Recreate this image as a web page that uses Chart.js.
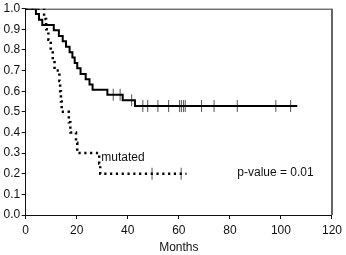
<!DOCTYPE html>
<html>
<head>
<meta charset="utf-8">
<script src="https://cdn.jsdelivr.net/npm/chart.js@4/dist/chart.umd.min.js"></script>
<style>
  html, body { margin: 0; padding: 0; background: #fff; }
  #wrap { width: 346px; height: 255px; }
</style>
</head>
<body>
<div id="wrap"><canvas id="c" width="346" height="255"></canvas></div>
<script>
// ---- Data (Kaplan-Meier curves) ----
const wildMonths = [0, 4.0, 5.2, 6.5, 11.0, 13.0, 14.5, 15.8, 17.2, 18.3, 19.2, 20.2, 21.5, 23.5, 25.0, 26.2, 32.0, 38.0, 42.8, 106.4];
const wildSurv   = [1.0, 0.974, 0.947, 0.921, 0.895, 0.868, 0.842, 0.816, 0.789, 0.763, 0.737, 0.711, 0.684, 0.658, 0.632, 0.607, 0.583, 0.556, 0.528, 0.528];
const wildCensor = [34.3, 37.0, 41.5, 45.9, 47.8, 51.8, 56.0, 60.3, 61.0, 61.8, 62.5, 68.9, 73.8, 82.9, 98.0, 103.8];

const mutMonths = [0, 7.2, 8.0, 8.9, 9.8, 10.6, 11.3, 13.2, 13.5, 13.8, 14.1, 16.9, 17.5, 19.7, 20.2, 28.8, 29.2, 63.0];
const mutSurv   = [1.0, 0.95, 0.90, 0.85, 0.80, 0.75, 0.70, 0.65, 0.60, 0.55, 0.50, 0.45, 0.40, 0.35, 0.30, 0.25, 0.20, 0.20];
const mutCensor = [49.5, 60.9];

const xTicks = [0, 20, 40, 60, 80, 100, 120];
const yTicks = [0.0, 0.1, 0.2, 0.3, 0.4, 0.5, 0.6, 0.7, 0.8, 0.9, 1.0];

const mutLabel = "mutated";
const pLabel = "p-value = 0.01";
const xTitle = "Months";

// ---- helpers ----
function toPoints(xs, ys) { return xs.map((x, i) => ({ x: x, y: ys[i] })); }
function levelAt(xs, ys, t) {
  let v = ys[0];
  for (let i = 0; i < xs.length; i++) { if (xs[i] <= t) v = ys[i]; }
  return v;
}
function censorPoints(cs, xs, ys) { return cs.map(t => ({ x: t, y: levelAt(xs, ys, t) })); }

const FONT = "'Liberation Sans', Arial, Helvetica, sans-serif";

const framePlugin = {
  id: 'frame',
  beforeDatasetsDraw(chart) {
    const a = chart.chartArea, ctx = chart.ctx;
    ctx.save();
    ctx.strokeStyle = '#333';
    ctx.lineWidth = 1;
    ctx.beginPath();
    ctx.moveTo(a.left, a.top + 0.5);
    ctx.lineTo(a.right, a.top + 0.5);
    ctx.stroke();
    ctx.strokeStyle = '#666';
    ctx.lineWidth = 2;
    ctx.beginPath();
    ctx.moveTo(a.right, a.top);
    ctx.lineTo(a.right, a.bottom);
    ctx.stroke();
    ctx.restore();
  },
  afterDatasetsDraw(chart) {
    const ctx = chart.ctx, xs = chart.scales.x, ys = chart.scales.y;
    ctx.save();
    ctx.fillStyle = '#111';
    ctx.font = '12px ' + FONT;
    ctx.textBaseline = 'middle';
    ctx.textAlign = 'left';
    ctx.fillText(mutLabel, xs.getPixelForValue(29.6), ys.getPixelForValue(0.279));
    ctx.fillText(pLabel, xs.getPixelForValue(82.9), ys.getPixelForValue(0.205));
    ctx.restore();
  }
};

new Chart(document.getElementById('c'), {
  type: 'line',
  data: {
    datasets: [
      {
        data: toPoints(wildMonths, wildSurv),
        borderColor: '#000', borderWidth: 2, stepped: 'before',
        pointRadius: 0, fill: false
      },
      {
        data: toPoints(mutMonths, mutSurv),
        borderColor: '#000', borderWidth: 2.5, borderDash: [2.2, 3.6], stepped: 'before',
        pointRadius: 0, fill: false
      },
      {
        data: censorPoints(wildCensor, wildMonths, wildSurv),
        showLine: false, pointStyle: 'line', rotation: 90, pointRadius: 6,
        pointBorderColor: '#555', pointBorderWidth: 1, borderColor: '#555'
      },
      {
        data: censorPoints(mutCensor, mutMonths, mutSurv),
        showLine: false, pointStyle: 'line', rotation: 90, pointRadius: 6,
        pointBorderColor: '#555', pointBorderWidth: 1, borderColor: '#555'
      }
    ]
  },
  options: {
    responsive: false,
    animation: false,
    events: [],
    layout: { padding: { left: 0, right: 9, top: 7, bottom: 0 } },
    plugins: { legend: { display: false }, tooltip: { enabled: false } },
    scales: {
      x: {
        type: 'linear', min: 0, max: 120,
        afterBuildTicks(axis) { axis.ticks = xTicks.map(v => ({ value: v })); },
        afterFit(axis) { axis.height = 40; },
        ticks: { color: '#111', font: { size: 12, family: FONT }, padding: 4, maxRotation: 0 },
        grid: { display: true, drawOnChartArea: false, drawTicks: true, tickLength: 4, color: '#111' },
        border: { display: true, color: '#111', width: 1 },
        title: { display: true, text: xTitle, color: '#111', font: { size: 12, family: FONT }, padding: { top: 0, bottom: 0 } }
      },
      y: {
        type: 'linear', min: 0, max: 1,
        afterBuildTicks(axis) { axis.ticks = yTicks.map(v => ({ value: v })); },
        afterFit(axis) { axis.width = 25.7; },
        ticks: { color: '#111', font: { size: 12, family: FONT }, padding: 1.5, callback: v => Number(v).toFixed(1) },
        grid: { display: true, drawOnChartArea: false, drawTicks: true, tickLength: 4, color: '#111' },
        border: { display: true, color: '#111', width: 1 }
      }
    }
  },
  plugins: [framePlugin]
});
</script>
</body>
</html>
